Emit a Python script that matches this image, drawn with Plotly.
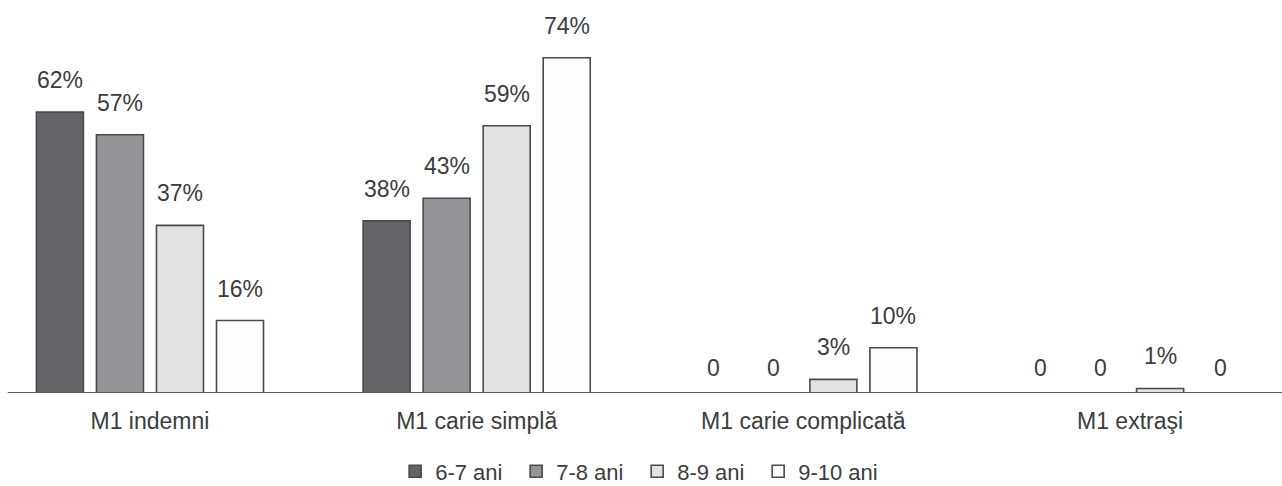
import plotly.graph_objects as go

categories = ["M1 indemni", "M1 carie simplă", "M1 carie complicată", "M1 extraşi"]
series_names = ["6-7 ani", "7-8 ani", "8-9 ani", "9-10 ani"]
values_6_7 = [62, 38, 0, 0]
values_7_8 = [57, 43, 0, 0]
values_8_9 = [37, 59, 3, 1]
values_9_10 = [16, 74, 10, 0]

all_values = [values_6_7, values_7_8, values_8_9, values_9_10]
fills = ["#636468", "#949598", "#e1e2e4", "#fdfdfd"]
outline = "#4a4a4c"
text_color = "#3c3c3e"
font_family = "Liberation Sans, Arial, sans-serif"

W, H = 1282, 486
bargap = 0.265
bargroupgap = 0.217
n_series = len(series_names)

fig = go.Figure()
for name, vals, col in zip(series_names, all_values, fills):
    fig.add_trace(go.Bar(
        name=name,
        x=categories,
        y=vals,
        marker=dict(color=col, line=dict(color=outline, width=1.6)),
        hoverinfo="skip",
    ))

# value labels placed over each bar slot
slot = (1 - bargap) / n_series
for k, vals in enumerate(all_values):
    offset = (k - (n_series - 1) / 2) * slot
    for i, v in enumerate(vals):
        fig.add_annotation(
            x=i + offset, y=v, xref="x", yref="y",
            text=f"{v}%" if v > 0 else "0",
            showarrow=False, yanchor="bottom", yshift=17 if v > 0 else 10,
            font=dict(size=23, color=text_color, family=font_family),
        )

# baseline
fig.add_shape(type="line", xref="paper", yref="y", x0=0.006, x1=1, y0=0, y1=0,
              line=dict(color="#5a5a5c", width=2))

fig.update_layout(
    width=W, height=H,
    margin=dict(l=0, r=0, t=0, b=93, autoexpand=False),
    paper_bgcolor="white", plot_bgcolor="white",
    barmode="group", bargap=bargap, bargroupgap=bargroupgap,
    font=dict(family=font_family, color=text_color),
    xaxis=dict(
        type="category", range=[-0.459, 3.465],
        showgrid=False, zeroline=False, showline=False, ticks="",
        tickfont=dict(size=23, color=text_color, family=font_family),
        ticklabelstandoff=12, automargin=False,
    ),
    yaxis=dict(range=[0, 86.75], visible=False),
    legend=dict(
        orientation="h", x=0.497, xanchor="center",
        yref="container", y=0.03, yanchor="middle",
        font=dict(size=22, color=text_color, family=font_family),
        itemwidth=30, entrywidth=76, entrywidthmode="pixels",
        traceorder="normal", tracegroupgap=0,
    ),
    showlegend=True,
)

fig.write_html("out.html")
